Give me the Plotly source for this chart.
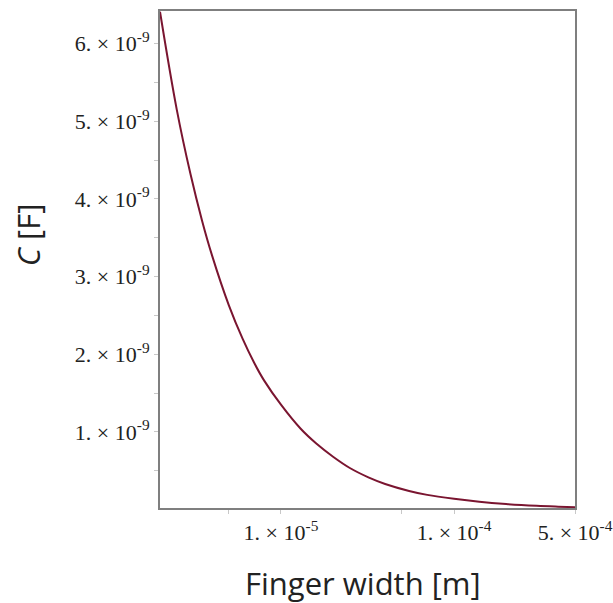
import numpy as np
import plotly.graph_objects as go

# Finger width (m) and capacitance (F)
width_m = [2.0e-6, 2.5e-6, 3.0e-6, 3.5e-6, 4.0e-6, 5.0e-6, 6.0e-6, 7.0e-6, 8.0e-6,
           1.0e-5, 1.3e-5, 1.6e-5, 2.0e-5, 2.5e-5, 3.2e-5, 4.0e-5, 5.5e-5, 7.0e-5,
           1.0e-4, 1.4e-4, 2.0e-4, 3.0e-4, 4.0e-4, 5.0e-4]
cap_F = [6.41e-9, 5.15e-9, 4.32e-9, 3.72e-9, 3.27e-9, 2.63e-9, 2.20e-9, 1.89e-9, 1.66e-9,
         1.35e-9, 1.04e-9, 0.85e-9, 0.68e-9, 0.535e-9, 0.415e-9, 0.33e-9, 0.24e-9, 0.189e-9,
         0.138e-9, 0.100e-9, 0.071e-9, 0.048e-9, 0.037e-9, 0.030e-9]

x_tickvals = [1e-5, 1e-4, 5e-4]
x_ticktext = ["1. × 10<sup>-5</sup>", "1. × 10<sup>-4</sup>", "5. × 10<sup>-4</sup>"]
x_minor = [5e-6, 5e-5]

y_tickvals = [1e-9, 2e-9, 3e-9, 4e-9, 5e-9, 6e-9]
y_ticktext = [f"{k}. × 10<sup>-9</sup>" for k in range(1, 7)]
y_minor = [0.5e-9, 1.5e-9, 2.5e-9, 3.5e-9, 4.5e-9, 5.5e-9]

fig = go.Figure(go.Scatter(
    x=width_m, y=cap_F, mode="lines",
    line=dict(color="#7a1530", width=2, shape="spline", smoothing=1.0),
    showlegend=False,
))

frame = "#7f7f7f"
tick_font = dict(family="Liberation Serif", size=22, color="#222")
title_font = dict(family="Open Sans", size=31, color="#222")

fig.update_xaxes(
    type="log", range=[np.log10(2e-6), np.log10(5e-4)], automargin=False,
    tickmode="array", tickvals=x_tickvals, ticktext=x_ticktext,
    ticks="outside", ticklen=4, tickcolor="#c8c8c8", tickfont=tick_font,
    minor=dict(tickvals=x_minor, ticks="outside", ticklen=4, tickcolor="#c8c8c8"),
    showgrid=False, zeroline=False,
    showline=True, linecolor=frame, linewidth=2, mirror=True,
)
fig.update_yaxes(
    range=[0.02e-9, 6.42e-9], automargin=False,
    tickmode="array", tickvals=y_tickvals, ticktext=y_ticktext,
    ticks="outside", ticklen=4, tickcolor="#c8c8c8", tickfont=tick_font,
    minor=dict(tickvals=y_minor, ticks="outside", ticklen=4, tickcolor="#c8c8c8"),
    showgrid=False, zeroline=False,
    showline=True, linecolor=frame, linewidth=2, mirror=True,
)

# axis titles
fig.add_annotation(text="Finger width [m]", font=title_font, showarrow=False,
                   xref="paper", yref="paper", x=0.489, y=-0.151,
                   xanchor="center", yanchor="middle")
fig.add_annotation(text="<i>C</i> [F]", font=title_font, showarrow=False, textangle=-90,
                   xref="paper", yref="paper", x=-0.318, y=0.549,
                   xanchor="center", yanchor="middle")

fig.update_layout(
    width=613, height=603,
    margin=dict(l=160, r=38, t=11, b=95, autoexpand=False),
    paper_bgcolor="white", plot_bgcolor="white",
)

fig.write_html("out.html")
